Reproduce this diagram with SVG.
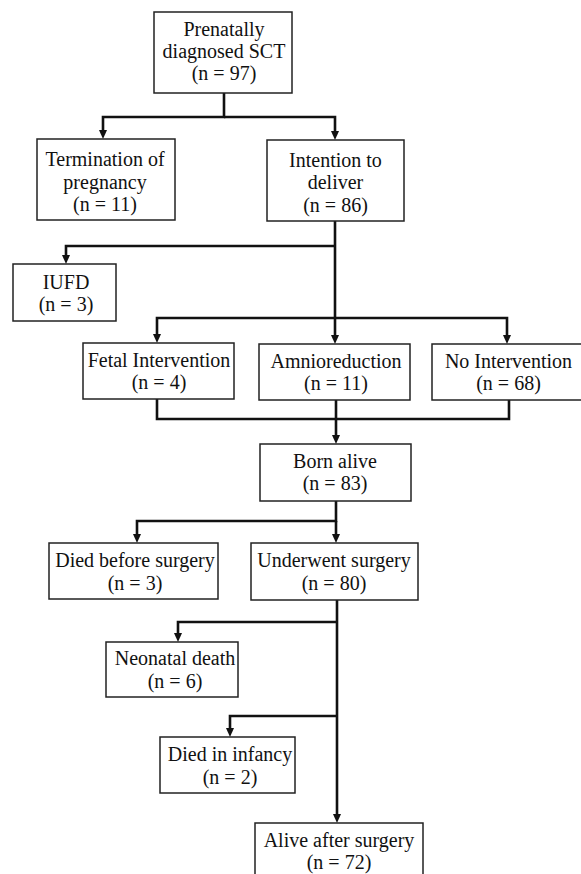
<svg xmlns="http://www.w3.org/2000/svg" width="581" height="874" viewBox="0 0 581 874">
<style>
.box{fill:#fff;stroke:#222;stroke-width:1.5}
.t{font-family:"Liberation Serif","Times New Roman",serif;font-size:20px;fill:#111;text-anchor:middle}
.c{fill:none;stroke:#111;stroke-width:2.6;stroke-linejoin:miter}
</style>
<defs>
<marker id="ah" viewBox="0 0 9 8" refX="4" refY="4" markerWidth="9" markerHeight="8" markerUnits="userSpaceOnUse" orient="auto">
<path d="M0,0 L9,4 L0,8 Z" fill="#111"/>
</marker>
</defs>
<rect width="581" height="874" fill="#fff"/>
<g id="connectors">
<path class="c" d="M224,93 V117 H103 V134" marker-end="url(#ah)"/>
<path class="c" d="M224,117 H335 V135" marker-end="url(#ah)"/>
<path class="c" d="M335,221 V339" marker-end="url(#ah)"/>
<path class="c" d="M335,246 H66 V259" marker-end="url(#ah)"/>
<path class="c" d="M335,318 H157 V338" marker-end="url(#ah)"/>
<path class="c" d="M335,318 H507 V339" marker-end="url(#ah)"/>
<path class="c" d="M157,399 V419 H509 V400"/>
<path class="c" d="M336,400 V439" marker-end="url(#ah)"/>
<path class="c" d="M336,501 V521 H137 V538" marker-end="url(#ah)"/>
<path class="c" d="M336,521 V538" marker-end="url(#ah)"/>
<path class="c" d="M337,600 V818" marker-end="url(#ah)"/>
<path class="c" d="M337,622 H178 V637" marker-end="url(#ah)"/>
<path class="c" d="M337,716 H230 V732" marker-end="url(#ah)"/>
</g>
<g id="n_prenatal"><rect class="box" x="154" y="12" width="138" height="81"/>
<text class="t" x="224" y="36">Prenatally</text><text class="t" x="224" y="58">diagnosed SCT</text><text class="t" x="224" y="80">(n = 97)</text></g>
<g id="n_termination"><rect class="box" x="37" y="139" width="138" height="81"/>
<text class="t" x="105" y="166">Termination of</text><text class="t" x="105" y="188.5">pregnancy</text><text class="t" x="105" y="211">(n = 11)</text></g>
<g id="n_intention"><rect class="box" x="267" y="140" width="137" height="81"/>
<text class="t" x="335.5" y="167">Intention to</text><text class="t" x="335.5" y="189">deliver</text><text class="t" x="335.5" y="212">(n = 86)</text></g>
<g id="n_iufd"><rect class="box" x="13" y="264" width="103" height="57"/>
<text class="t" x="66" y="289">IUFD</text><text class="t" x="66" y="311">(n = 3)</text></g>
<g id="n_fetal"><rect class="box" x="83" y="343" width="151" height="56"/>
<text class="t" x="159" y="367">Fetal Intervention</text><text class="t" x="159" y="389">(n = 4)</text></g>
<g id="n_amnio"><rect class="box" x="259" y="344" width="151" height="56"/>
<text class="t" x="336" y="367.5">Amnioreduction</text><text class="t" x="336" y="390">(n = 11)</text></g>
<g id="n_noint"><rect class="box" x="432" y="344" width="156" height="56"/>
<text class="t" x="508.5" y="367.5">No Intervention</text><text class="t" x="508.5" y="390">(n = 68)</text></g>
<g id="n_born"><rect class="box" x="260" y="444" width="151" height="57"/>
<text class="t" x="335" y="468">Born alive</text><text class="t" x="335" y="490">(n = 83)</text></g>
<g id="n_diedbefore"><rect class="box" x="49" y="543" width="169" height="56"/>
<text class="t" x="135" y="567">Died before surgery</text><text class="t" x="135" y="590">(n = 3)</text></g>
<g id="n_underwent"><rect class="box" x="251" y="543" width="167" height="57"/>
<text class="t" x="334" y="567">Underwent surgery</text><text class="t" x="334" y="590">(n = 80)</text></g>
<g id="n_neonatal"><rect class="box" x="106" y="642" width="132" height="55"/>
<text class="t" x="175" y="665">Neonatal death</text><text class="t" x="175" y="688">(n = 6)</text></g>
<g id="n_infancy"><rect class="box" x="160" y="737" width="135" height="56"/>
<text class="t" x="230" y="761">Died in infancy</text><text class="t" x="230" y="783.5">(n = 2)</text></g>
<g id="n_alive"><rect class="box" x="255" y="823" width="168" height="60"/>
<text class="t" x="339" y="846.5">Alive after surgery</text><text class="t" x="339" y="868.5">(n = 72)</text></g>
</svg>
